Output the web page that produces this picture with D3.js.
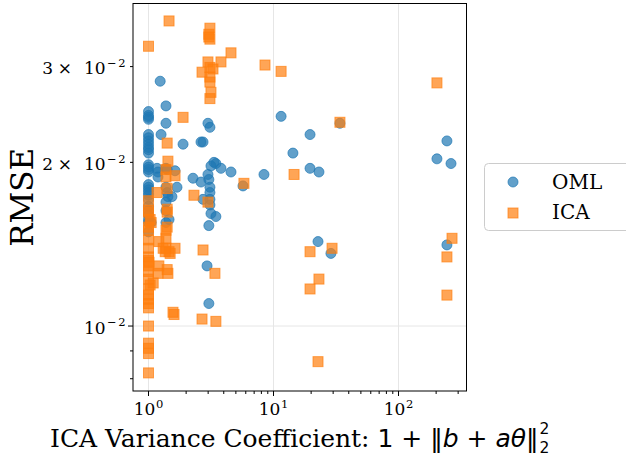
<!DOCTYPE html>
<html>
<head>
<meta charset="utf-8">
<script src="https://cdn.jsdelivr.net/npm/d3@7"></script>
<style>
  body { margin: 0; background: #fff; }
  svg { display: block; }
</style>
</head>
<body>
<svg id="chart" width="626" height="459"></svg>
<script>
// ---- data -------------------------------------------------------------
// OML runs: ICA variance coefficient vs RMSE
const omlX = [
  1.0, 1.0, 1.0, 1.0, 1.0, 1.0, 1.0, 1.0, 1.0, 1.0, 1.0, 1.0, 1.0, 1.0,
  1.0, 1.0, 1.0, 1.0, 1.0, 1.0, 1.0, 1.0, 1.0, 1.0, 1.0, 1.0, 1.0,
  1.24, 1.38, 1.38, 1.26, 1.89, 2.63, 2.73, 2.99, 3.10,
  1.17, 1.19, 1.19, 1.38, 1.41, 1.63, 2.27, 2.63, 2.99, 3.34, 3.46, 3.16, 3.80, 4.57, 5.70, 8.39,
  1.69, 1.41, 1.54, 1.43, 1.38, 3.04, 3.10, 3.10, 2.73, 3.10, 3.10, 3.16, 3.46, 3.04, 1.46, 1.38, 1.05, 2.94, 3.04,
  11.5, 19.6, 14.3, 19.6, 23.1, 34.0, 244, 203, 263, 22.7, 28.8, 244, 1.38, 1.38
];
const omlY = [
  0.0248, 0.0244, 0.0242, 0.0240, 0.0225, 0.0222, 0.0219, 0.0216, 0.0213, 0.0211, 0.0208, 0.0198, 0.0196, 0.0194,
  0.0192, 0.0182, 0.0180, 0.0178, 0.0176, 0.0174, 0.0171, 0.0166, 0.0163, 0.0160, 0.0157, 0.0155, 0.0149,
  0.0282, 0.0254, 0.0236, 0.0225, 0.0216, 0.0218, 0.0218, 0.0236, 0.0232,
  0.0195, 0.0192, 0.0188, 0.0195, 0.0194, 0.0193, 0.0187, 0.0184, 0.0190, 0.0200, 0.0199, 0.0197, 0.0195, 0.0192, 0.0181, 0.0190,
  0.0180, 0.0176, 0.0173, 0.0173, 0.0169, 0.0186, 0.0180, 0.0176, 0.0171, 0.0171, 0.0167, 0.0161, 0.0159, 0.0153, 0.0157, 0.0155, 0.0155, 0.0129, 0.0110,
  0.0243, 0.0225, 0.0208, 0.0195, 0.0192, 0.0236, 0.0219, 0.0203, 0.0199, 0.0143, 0.0136, 0.0141, 0.0180, 0.0163
];

// ICA runs
const icaX = [
  1.0, 1.46, 3.10, 3.04, 3.04, 3.10, 4.57, 8.55, 11.5, 2.99, 3.80, 2.68, 3.10, 3.28, 3.10, 3.10, 3.16, 3.10,
  1.89, 203, 34.0, 14.6, 5.80,
  1.41, 1.43, 1.38, 1.63, 1.38, 1.41, 1.17, 2.31, 2.99, 1.0, 1.0, 1.41, 1.41, 1.05, 1.41, 1.38, 1.38, 1.21,
  1.0, 1.0, 1.38, 1.63, 1.46, 1.31, 2.73, 1.0, 1.21, 1.19, 1.41, 1.43, 1.09, 3.40,
  1.60, 1.57, 2.68, 3.46, 1.0, 1.0, 1.0, 1.0, 1.0, 1.03, 1.0, 1.0, 1.0, 1.0, 1.0, 1.0, 1.0, 1.0, 1.0, 1.0,
  19.6, 29.4, 23.1, 19.6, 22.7, 268, 244, 244, 1.49, 1.36, 1.0, 1.03, 1.01, 1.0
];
const icaY = [
  0.0327, 0.0364, 0.0353, 0.0344, 0.0340, 0.0337, 0.0318, 0.0302, 0.0294, 0.0306, 0.0306, 0.0293, 0.0299, 0.0297, 0.0287, 0.0281, 0.0269, 0.0262,
  0.0242, 0.0280, 0.0237, 0.0190, 0.0183,
  0.0217, 0.0201, 0.0194, 0.0189, 0.0188, 0.0179, 0.0176, 0.0174, 0.0169, 0.0170, 0.0162, 0.0164, 0.0162, 0.0155, 0.0152, 0.0150, 0.0145, 0.0143,
  0.0144, 0.0139, 0.0139, 0.0139, 0.0137, 0.0139, 0.0138, 0.0134, 0.0129, 0.0125, 0.0127, 0.0125, 0.0120, 0.0125,
  0.0105, 0.0106, 0.0103, 0.0102, 0.0100, 0.0093, 0.0091, 0.0089, 0.0082, 0.0119, 0.0112, 0.0108, 0.0129, 0.0126, 0.0122, 0.0117, 0.0114, 0.0132, 0.0150, 0.0152,
  0.0137, 0.0139, 0.0122, 0.0117, 0.0086, 0.0145, 0.0134, 0.0114, 0.0136, 0.0137, 0.0163, 0.0157, 0.0131, 0.0110
];

// ticks
const xMajorTicks = [1, 10, 100];
const xMajorExp = ["0", "1", "2"];
const xMinorTicks = [2, 3, 4, 5, 6, 7, 8, 9, 20, 30, 40, 50, 60, 70, 80, 90, 200, 300];
const yMajorTicks = [0.01];
const yMinorTicks = [0.008, 0.009, 0.02, 0.03];
const yLabeledMinor = [0.02, 0.03];
const yLabeledMant = ["2", "3"];

const seriesNames = ["OML", "ICA"];
const colors = ["#1f77b4", "#ff7f0e"];

// ---- layout -----------------------------------------------------------
const L = 133, R = 466.5, T = 3.5, B = 391;
const serif = "'DejaVu Serif', serif";
const sans = "'DejaVu Sans', sans-serif";

const svg = d3.select("#chart");
svg.append("rect").attr("width", 626).attr("height", 459).attr("fill", "#fff");

const x = d3.scaleLog().domain([0.7516, 349.9]).range([L, R]);
const y = d3.scaleLog().domain([0.007595, 0.03919]).range([B, T]);

// grid at major decades
const grid = svg.append("g").attr("stroke", "#e6e6e6").attr("stroke-width", 1);
grid.selectAll("line.gx").data(xMajorTicks).join("line")
  .attr("x1", d => x(d)).attr("x2", d => x(d)).attr("y1", T).attr("y2", B);
grid.selectAll("line.gy").data(yMajorTicks).join("line")
  .attr("x1", L).attr("x2", R).attr("y1", d => y(d)).attr("y2", d => y(d));

// markers
const plot = svg.append("g");
plot.append("defs").append("clipPath").attr("id", "clip")
  .append("rect").attr("x", L).attr("y", T).attr("width", R - L).attr("height", B - T);
const pts = plot.append("g").attr("clip-path", "url(#clip)");

const oml = omlX.map((v, i) => ({ x: v, y: omlY[i] }));
const ica = icaX.map((v, i) => ({ x: v, y: icaY[i] }));

pts.append("g").selectAll("circle").data(oml).join("circle")
  .attr("cx", d => x(d.x)).attr("cy", d => y(d.y)).attr("r", 5)
  .attr("fill", colors[0]).attr("fill-opacity", 0.7)
  .attr("stroke", colors[0]).attr("stroke-opacity", 0.7).attr("stroke-width", 1);

const sq = 10;
pts.append("g").selectAll("rect").data(ica).join("rect")
  .attr("x", d => x(d.x) - sq / 2).attr("y", d => y(d.y) - sq / 2)
  .attr("width", sq).attr("height", sq)
  .attr("fill", colors[1]).attr("fill-opacity", 0.7)
  .attr("stroke", colors[1]).attr("stroke-opacity", 0.7).attr("stroke-width", 1);

// axes frame
svg.append("rect").attr("x", L).attr("y", T).attr("width", R - L).attr("height", B - T)
  .attr("fill", "none").attr("stroke", "#000").attr("stroke-width", 1);

// tick marks
const ticks = svg.append("g").attr("stroke", "#000").attr("stroke-width", 1);
ticks.selectAll("line.xM").data(xMajorTicks).join("line")
  .attr("x1", d => x(d)).attr("x2", d => x(d)).attr("y1", B).attr("y2", B + 5);
ticks.selectAll("line.xm").data(xMinorTicks).join("line")
  .attr("x1", d => x(d)).attr("x2", d => x(d)).attr("y1", B).attr("y2", B + 3);
ticks.selectAll("line.yM").data(yMajorTicks).join("line")
  .attr("x1", L - 5).attr("x2", L).attr("y1", d => y(d)).attr("y2", d => y(d));
ticks.selectAll("line.ym").data(yMinorTicks).join("line")
  .attr("x1", L - 3).attr("x2", L).attr("y1", d => y(d)).attr("y2", d => y(d));

// x tick labels: 10^k
const tickFs = 17, supFs = 11.5;
xMajorTicks.forEach((v, i) => {
  const t = svg.append("text").attr("x", x(v)).attr("y", 415)
    .attr("text-anchor", "middle").attr("font-family", serif).attr("font-size", tickFs).attr("fill", "#000");
  t.append("tspan").text("10");
  t.append("tspan").attr("dy", -7.5).attr("dx", 0.5).attr("font-size", supFs).text(xMajorExp[i]);
});

// y tick labels: 10^-2 and m × 10^-2
function yExp(t) {
  t.append("tspan").attr("dy", -7.3).attr("dx", 1.5).attr("font-size", supFs).text("\u2212");
  t.append("tspan").attr("dx", 1.5).attr("font-size", supFs).text("2");
}
yMajorTicks.forEach(v => {
  const t = svg.append("text").attr("x", 125.5).attr("y", y(v) + 7.5)
    .attr("text-anchor", "end").attr("font-family", serif).attr("font-size", tickFs).attr("fill", "#000");
  t.append("tspan").text("10");
  yExp(t);
});
yLabeledMinor.forEach((v, i) => {
  const t = svg.append("text").attr("x", 125.5).attr("y", y(v) + 7.5)
    .attr("text-anchor", "end").attr("font-family", serif).attr("font-size", tickFs).attr("fill", "#000");
  t.append("tspan").text(yLabeledMant[i]);
  t.append("tspan").attr("dx", 4.5).text("\u00d7");
  t.append("tspan").attr("dx", 12).text("10");
  yExp(t);
});

// y axis label
svg.append("text")
  .attr("transform", `translate(33,${(T + B) / 2}) rotate(-90)`)
  .attr("text-anchor", "middle").attr("font-family", serif).attr("font-size", 31)
  .attr("fill", "#000").text("RMSE");

// x axis label with math part
const labFs = 25;
const xl = svg.append("g");
const main = xl.append("text").attr("y", 447).attr("font-size", labFs).attr("fill", "#000");
main.append("tspan").attr("font-family", serif).text("ICA Variance Coefficient: ");
main.append("tspan").attr("font-family", sans).text("1 + \u2016");
main.append("tspan").attr("font-family", sans).attr("font-style", "italic").text("b");
main.append("tspan").attr("font-family", sans).text(" + ");
main.append("tspan").attr("font-family", sans).attr("font-style", "italic").text("a\u03b8");
main.append("tspan").attr("font-family", sans).text("\u2016");
const supT = xl.append("text").attr("y", 434).attr("font-family", sans).attr("font-size", 15.5).attr("fill", "#000").text("2");
const subT = xl.append("text").attr("y", 453).attr("font-family", sans).attr("font-size", 15.5).attr("fill", "#000").text("2");
const wMain = main.node().getComputedTextLength();
const wScript = Math.max(supT.node().getComputedTextLength(), subT.node().getComputedTextLength());
const total = wMain + 1 + wScript;
const x0 = (L + R) / 2 - total / 2;
main.attr("x", x0);
supT.attr("x", x0 + wMain + 1);
subT.attr("x", x0 + wMain + 1);

// legend
const lg = svg.append("g");
lg.append("rect").attr("x", 484.5).attr("y", 163.5).attr("width", 200).attr("height", 67).attr("rx", 4)
  .attr("fill", "#fff").attr("fill-opacity", 0.8).attr("stroke", "#cccccc").attr("stroke-width", 1);
lg.append("circle").attr("cx", 513).attr("cy", 182).attr("r", 5)
  .attr("fill", colors[0]).attr("fill-opacity", 0.7).attr("stroke", colors[0]).attr("stroke-opacity", 0.7);
lg.append("rect").attr("x", 513 - sq / 2).attr("y", 213 - sq / 2).attr("width", sq).attr("height", sq)
  .attr("fill", colors[1]).attr("fill-opacity", 0.7).attr("stroke", colors[1]).attr("stroke-opacity", 0.7);
[188.5, 218.5].forEach((yy, i) => {
  lg.append("text").attr("x", 552).attr("y", yy).attr("font-family", serif).attr("font-size", 20)
    .attr("fill", "#000").text(seriesNames[i]);
});
</script>
</body>
</html>
